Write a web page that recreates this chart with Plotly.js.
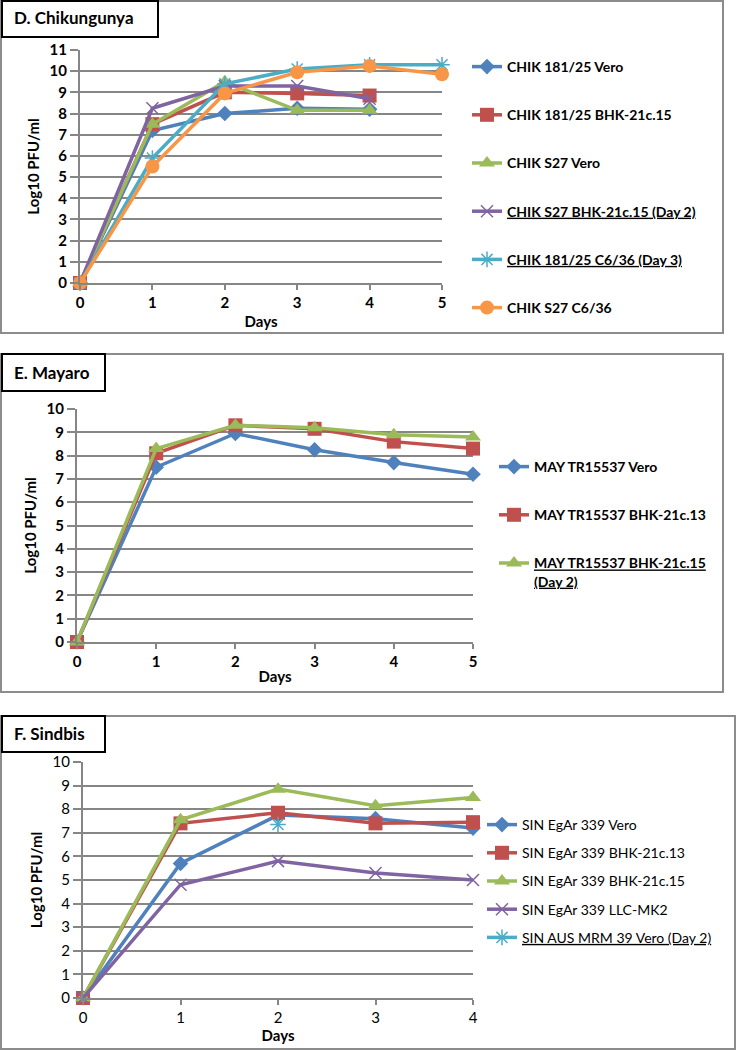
<!DOCTYPE html>
<html>
<head>
<meta charset="utf-8">
<script src="https://cdn.plot.ly/plotly-3.0.1.min.js"></script>
<style>body{margin:0;background:#fff}</style>
</head>
<body>
<div id="chart"></div>
<script>
// day axes
var daysD = [0, 1, 2, 3, 4, 5];
var daysE = [0, 1, 2, 3, 4, 5];
var daysF = [0, 1, 2, 3, 4];

// D. Chikungunya
var chik18125Vero = [0, 7.2, 8.0, 8.25, 8.2];
var chik18125Bhk = [0, 7.5, 9.0, 8.95, 8.85];
var chikS27Vero = [0, 7.5, 9.5, 8.15, 8.15];
var chikS27Bhk = [0, 8.25, 9.3, 9.3, 8.7];
var chik18125C636 = [0, 5.9, 9.4, 10.1, 10.3, 10.3];
var chikS27C636 = [0, 5.5, 8.95, 9.95, 10.25, 9.85];

// E. Mayaro
var mayVero = [0, 7.5, 8.95, 8.25, 7.7, 7.2];
var mayBhk13 = [0, 8.1, 9.3, 9.15, 8.6, 8.3];
var mayBhk15 = [0, 8.3, 9.3, 9.2, 8.9, 8.8];

// F. Sindbis
var sinVero = [0, 5.7, 7.75, 7.6, 7.2];
var sinBhk13 = [0, 7.4, 7.85, 7.4, 7.45];
var sinBhk15 = [0, 7.55, 8.85, 8.15, 8.5];
var sinLlc = [0, 4.8, 5.8, 5.3, 5.0];
var sinAusDay = [2];
var sinAus = [7.35];

var blue = "#4F81BD", red = "#C0504D", green = "#9BBB59",
    purple = "#8064A2", cyan = "#4BACC6", orange = "#F79646";

var W = 736, H = 1050;
function px(x) { return x / W; }
function py(y) { return 1 - y / H; }

function line(name, x, y, color, symbol, size, ax, leg) {
  var thin = symbol.indexOf("x") === 0 || symbol.indexOf("asterisk") === 0;
  return {
    x: x, y: y, name: name, type: "scatter", mode: "lines+markers",
    line: {color: color, width: 3.5},
    marker: {color: color, symbol: symbol, size: size,
             line: {color: color, width: thin ? 1.5 : 0}},
    xaxis: "x" + ax, yaxis: "y" + ax, legend: leg, legendgroup: name,
    cliponaxis: false
  };
}

var data = [
  line("CHIK 181/25 Vero", daysD.slice(0, 5), chik18125Vero, blue, "diamond", 12, "", "legend"),
  line("CHIK 181/25 BHK-21c.15", daysD.slice(0, 5), chik18125Bhk, red, "square", 14, "", "legend"),
  line("CHIK S27 Vero", daysD.slice(0, 5), chikS27Vero, green, "triangle-up", 14, "", "legend"),
  line("<u>CHIK S27 BHK-21c.15 (Day 2)</u>", daysD.slice(0, 5), chikS27Bhk, purple, "x-thin", 12, "", "legend"),
  line("<u>CHIK 181/25 C6/36 (Day 3)</u>", daysD, chik18125C636, cyan, "asterisk", 13, "", "legend"),
  line("CHIK S27 C6/36", daysD, chikS27C636, orange, "circle", 14, "", "legend"),

  line("MAY TR15537 Vero", daysE, mayVero, blue, "diamond", 12, "2", "legend2"),
  line("MAY TR15537 BHK-21c.13", daysE, mayBhk13, red, "square", 14, "2", "legend2"),
  line("<u>MAY TR15537 BHK-21c.15</u><br><u>(Day 2)</u>", daysE, mayBhk15, green, "triangle-up", 14, "2", "legend2"),

  line("SIN EgAr 339 Vero", daysF, sinVero, blue, "diamond", 12, "3", "legend3"),
  line("SIN EgAr 339 BHK-21c.13", daysF, sinBhk13, red, "square", 14, "3", "legend3"),
  line("SIN EgAr 339 BHK-21c.15", daysF, sinBhk15, green, "triangle-up", 14, "3", "legend3"),
  line("SIN EgAr 339 LLC-MK2", daysF, sinLlc, purple, "x-thin", 12, "3", "legend3"),
  line("<u>SIN AUS MRM 39 Vero (Day 2)</u>", sinAusDay, sinAus, cyan, "asterisk", 13, "3", "legend3")
];

var gridCol = "#868686";
function xax(domain, max, bold, anchor, standoff) {
  return {
    domain: domain, range: [0, max], dtick: 1, anchor: anchor,
    showgrid: false, zeroline: false, showline: true, linecolor: gridCol, linewidth: 2,
    ticks: "outside", ticklen: 5, tickcolor: gridCol, tickwidth: 2,
    tickfont: {family: "Lato", size: 15, color: "#000", weight: bold ? "bold" : "normal"},
    title: {text: "<b>Days</b>", font: {family: "Lato", size: 15, color: "#000"}, standoff: standoff}
  };
}
function yax(domain, max, bold, anchor) {
  return {
    domain: domain, range: [0, max], dtick: 1, anchor: anchor,
    showgrid: true, gridcolor: gridCol, gridwidth: 2, zeroline: false,
    showline: true, linecolor: gridCol, linewidth: 2,
    ticks: "outside", ticklen: 8, tickcolor: gridCol, tickwidth: 2,
    tickfont: {family: "Lato", size: 15, color: "#000", weight: bold ? "bold" : "normal"},
    title: {text: "<b>Log10 PFU/ml</b>", font: {family: "Lato", size: 15, color: "#000"}, standoff: 6}
  };
}

function frame(x0, y0, x1, y1, color) {
  return {type: "rect", xref: "paper", yref: "paper",
          x0: px(x0), x1: px(x1), y0: py(y0), y1: py(y1),
          line: {color: color, width: 2}, fillcolor: "rgba(0,0,0,0)"};
}
function label(text, x, y) {
  return {text: "<b>" + text + "</b>", xref: "paper", yref: "paper",
          x: px(x), y: py(y), xanchor: "left", yanchor: "middle", showarrow: false,
          font: {family: "Lato", size: 17, color: "#000"}};
}
function legend(x, y, gap, bold) {
  return {x: px(x), y: py(y), xanchor: "left", yanchor: "top", valign: "top",
          bgcolor: "rgba(0,0,0,0)", tracegroupgap: gap, itemwidth: 30,
          font: {family: "Lato", size: 14, color: "#000", weight: bold ? "bold" : "normal"}};
}

var layout = {
  width: W, height: H,
  margin: {l: 0, r: 0, t: 0, b: 0},
  paper_bgcolor: "#fff", plot_bgcolor: "#fff",
  xaxis: xax([px(80), px(442)], 5, true, "y", 6),
  yaxis: yax([py(283), py(50)], 11, true, "x"),
  xaxis2: xax([px(77), px(473)], 5, true, "y2", 2),
  yaxis2: yax([py(642), py(409)], 10, true, "x2"),
  xaxis3: xax([px(83), px(473)], 4, false, "y3", 0),
  yaxis3: yax([py(998), py(762)], 10, false, "x3"),
  legend: legend(467, 51, 27, true),
  legend2: legend(494, 451, 27, true),
  legend3: legend(482, 809, 7, false),
  shapes: [
    frame(1, 1, 723, 333, "#8c8c8c"),
    frame(1, 354, 723, 692, "#8c8c8c"),
    frame(1, 716, 735, 1049, "#8c8c8c"),
    frame(2, 1, 158, 37, "#000"),
    frame(2, 354, 105, 391, "#000"),
    frame(2, 716, 105, 752, "#000")
  ],
  annotations: [
    label("D. Chikungunya", 12, 18),
    label("E. Mayaro", 12, 372),
    label("F. Sindbis", 12, 733)
  ],
  showlegend: true
};

Plotly.newPlot("chart", data, layout, {displayModeBar: false, staticPlot: true});
</script>
</body>
</html>
